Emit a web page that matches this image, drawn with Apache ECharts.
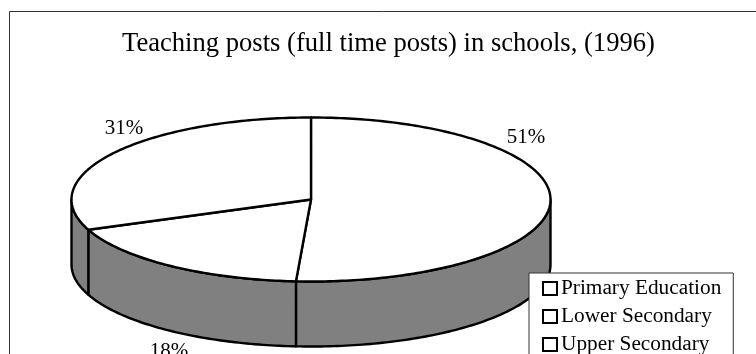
<!DOCTYPE html>
<html>
<head>
<meta charset="utf-8">
<style>html,body{margin:0;padding:0;background:#fff}#chart{width:756px;height:354px}</style>
<script src="https://cdn.jsdelivr.net/npm/echarts@6/dist/echarts.min.js"></script>
</head>
<body>
<div id="chart"></div>
<script>
const categories = ['Primary Education', 'Lower Secondary', 'Upper Secondary'];
const shares = [51, 18, 31];
const chartTitle = 'Teaching posts (full time posts) in schools, (1996)';

// Tilted disc geometry, in pixels.
const disc = { cx: 311, cy: 199.5, rx: 239.5, ry: 82, depth: 65 };
// Where each percentage label sits relative to the disc centre.
const labelOffsets = [[215, -62], [-142, 152], [-187, -71]];

const total = shares.reduce((a, b) => a + b, 0);
const onRim = (deg, drop) => {
  const t = deg * Math.PI / 180;
  return [disc.cx + disc.rx * Math.sin(t), disc.cy - disc.ry * Math.cos(t) + (drop || 0)];
};
const arc = (from, to, drop) => {
  const pts = [];
  const steps = Math.max(2, Math.ceil(Math.abs(to - from)));
  for (let i = 0; i <= steps; i++) pts.push(onRim(from + (to - from) * i / steps, drop));
  return pts;
};
const ink = { stroke: '#000', lineWidth: 2.4, lineJoin: 'round' };

function sliceRenderer(index) {
  return function (params, api) {
    const value = api.value(0);
    const before = shares.slice(0, index).reduce((a, b) => a + b, 0);
    const start = before / total * 360;
    const end = (before + value) / total * 360;
    const children = [];

    // Side wall: only the part of the rim that faces the viewer.
    const wallFrom = Math.max(start, 90);
    const wallTo = Math.min(end, 270);
    if (wallTo > wallFrom) {
      const pts = arc(wallFrom, wallTo, 0).concat(arc(wallTo, wallFrom, disc.depth));
      children.push({ type: 'polygon', shape: { points: pts },
        style: Object.assign({ fill: '#808080' }, ink) });
    }

    // Top face.
    const top = [[disc.cx, disc.cy]].concat(arc(start, end, 0));
    children.push({ type: 'polygon', shape: { points: top },
      style: Object.assign({ fill: '#fff' }, ink) });

    // Percentage label.
    children.push({ type: 'text',
      style: { x: disc.cx + labelOffsets[index][0], y: disc.cy + labelOffsets[index][1],
        text: value + '%', fill: '#000', align: 'center', verticalAlign: 'middle',
        font: '21px "Liberation Serif"' } });
    return { type: 'group', children };
  };
}

const chart = echarts.init(document.getElementById('chart'), null, { renderer: 'canvas' });
chart.setOption({
  animation: false,
  backgroundColor: '#fff',
  title: {
    text: chartTitle, left: 122, top: 31, padding: 0,
    textStyle: { fontFamily: 'Liberation Serif', fontSize: 26.6, fontWeight: 'normal', color: '#000' }
  },
  graphic: [{
    type: 'rect', z: -1, silent: true,
    shape: { x: 9.5, y: 11.5, width: 800, height: 400 },
    style: { fill: 'none', stroke: '#333', lineWidth: 1 }
  }],
  legend: {
    orient: 'vertical', left: 529, top: 273, width: 205, height: 110,
    padding: [5, 12, 5, 13], itemGap: 7, itemWidth: 14, itemHeight: 13,
    backgroundColor: '#fff', borderColor: '#333', borderWidth: 1, borderRadius: 0,
    icon: 'rect', selectedMode: false, z: 20,
    itemStyle: { color: '#fff', borderColor: '#000', borderWidth: 2 },
    textStyle: { fontFamily: 'Liberation Serif', fontSize: 21.3, color: '#000', padding: [0, 0, 0, -1] },
    data: categories
  },
  series: categories.map((name, i) => ({
    type: 'custom', name, coordinateSystem: 'none', silent: true,
    itemStyle: { color: '#fff' },
    renderItem: sliceRenderer(i),
    data: [[shares[i]]]
  }))
});
</script>
</body>
</html>
